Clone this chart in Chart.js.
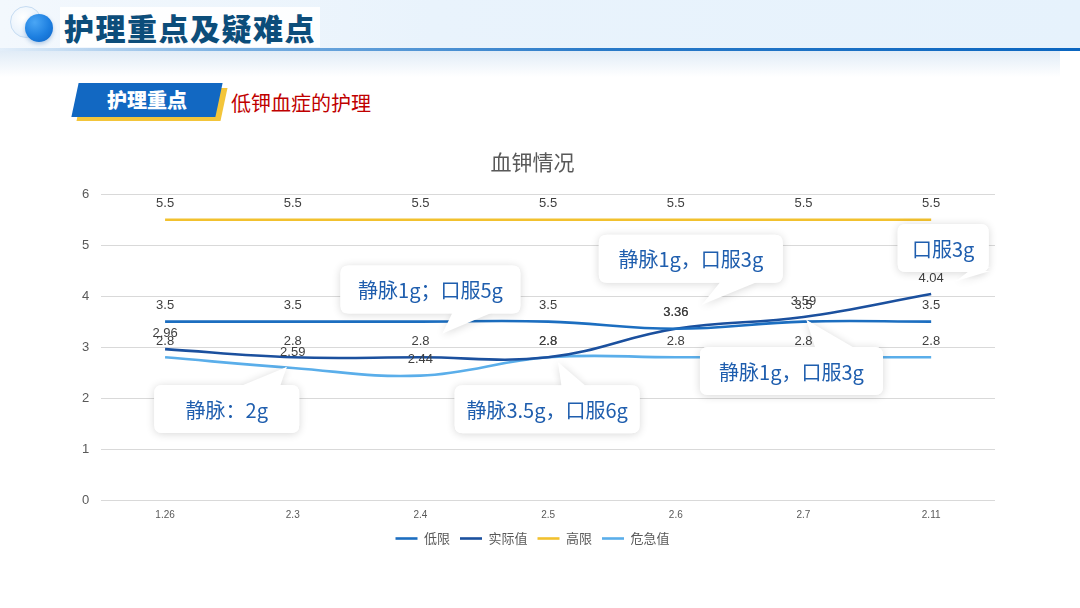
<!DOCTYPE html>
<html>
<head>
<meta charset="utf-8">
<script src="https://cdn.jsdelivr.net/npm/chart.js@4.4.1/dist/chart.umd.min.js"></script>
<style>
  html, body { margin: 0; padding: 0; }
  body {
    width: 1080px; height: 608px; overflow: hidden; position: relative;
    background: #ffffff;
    font-family: "Noto Sans CJK SC", "Liberation Sans", sans-serif;
  }
  .band {
    position: absolute; left: 0; top: 0; width: 1080px; height: 49px;
    background: linear-gradient(90deg, #f3f8fd 0%, #e9f3fc 40%, #e6f2fc 100%);
  }
  .band-line {
    position: absolute; left: 0; top: 48px; width: 1080px; height: 3px;
    background: linear-gradient(90deg, #e3eef9 0%, #7fb3e3 20%, #2a7ac8 55%, #0b66c0 100%);
  }
  .band-shadow {
    position: absolute; left: 0; top: 51px; width: 1060px; height: 26px;
    background: linear-gradient(180deg, rgba(200,220,240,0.55), rgba(255,255,255,0));
  }
  .ring {
    position: absolute; left: 10px; top: 6px; width: 30px; height: 30px; border-radius: 50%;
    background: radial-gradient(circle at 40% 35%, #ffffff 0%, #eaf3fc 60%, #cfe2f6 100%);
    border: 1px solid #c6dcf2;
  }
  .dot {
    position: absolute; left: 25px; top: 14px; width: 28px; height: 28px; border-radius: 50%;
    background: radial-gradient(circle at 35% 30%, #4aa6f5 0%, #1d7fe0 55%, #0d62c4 100%);
    box-shadow: 0 2px 4px rgba(20,90,170,0.3);
  }
  .main-title {
    position: absolute; left: 60px; top: 7px; height: 40px; padding: 0 4px;
    background: rgba(255,255,255,0.9);
    font-size: 30px; font-weight: 900; line-height: 40px; color: #0c4d7a; letter-spacing: 1.5px;
  }
  .tag-shadow {
    position: absolute; left: 80px; top: 88px; width: 144px; height: 33px;
    background: #f3c53a; transform: skewX(-12deg);
  }
  .tag {
    position: absolute; left: 75px; top: 83px; width: 144px; height: 34px;
    background: #1268c2; transform: skewX(-12deg);
  }
  .tag-text {
    position: absolute; left: 75px; top: 83px; width: 144px; height: 34px;
    text-align: center; line-height: 34px; color: #ffffff; font-size: 20px; font-weight: 900;
  }
  .subtitle {
    position: absolute; left: 231px; top: 89px; font-size: 20px; color: #c00000; line-height: 28px;
  }
  .chart-box { position: absolute; left: 40px; top: 135px; width: 1000px; height: 430px; }
</style>
</head>
<body>
<div class="band"></div>
<div class="band-line"></div>
<div class="band-shadow"></div>
<div class="ring"></div>
<div class="dot"></div>
<div class="main-title">护理重点及疑难点</div>
<div class="tag-shadow"></div>
<div class="tag"></div>
<div class="tag-text">护理重点</div>
<div class="subtitle">低钾血症的护理</div>
<div class="chart-box"><canvas id="chart"></canvas></div>

<script>
// categories (dates as labelled on the axis)
const dates = ['1.26', '2.3', '2.4', '2.5', '2.6', '2.7', '2.11']

// series values
const lowLimit = [3.5, 3.5, 3.5, 3.5, 3.36, 3.5, 3.5]
const actual = [2.96, 2.8, 2.8, 2.8, 3.36, 3.59, 4.04]
const highLimit = [5.5, 5.5, 5.5, 5.5, 5.5, 5.5, 5.5]
const critical = [2.8, 2.59, 2.44, 2.8, 2.8, 2.8, 2.8]

// y axis ticks
const yTicks = [0, 1, 2, 3, 4, 5, 6]

// dosing notes shown in callouts: [series index, point index, text]
const notes = [
    [3, 1, '静脉：2g'],
    [0, 2, '静脉1g；口服5g'],
    [1, 3, '静脉3.5g，口服6g'],
    [0, 4, '静脉1g，口服3g'],
    [1, 5, '静脉1g，口服3g'],
    [1, 6, '口服3g']
]

// callout placement relative to its point (style only)
const noteLayout = [
    { dx: -66, dy: 41, w: 145, tipDx: -6, tipDy: -1, base: [-46, -8] },
    { dx: 10, dy: -32, w: 180, tipDx: 22, tipDy: 12, base: [12, 50] },
    { dx: -1, dy: 52, w: 185, tipDx: 10, tipDy: 5, base: [4, 28] },
    { dx: 15, dy: -70, w: 184, tipDx: 26, tipDy: -24, base: [22, 56] },
    { dx: -12, dy: 54, w: 183, tipDx: 3, tipDy: 3, base: [10, 48] },
    { dx: 12, dy: -46, w: 91, tipDx: 25, tipDy: -13, base: [18, 34] }
]

const numFont = '13px "Liberation Sans", "Noto Sans CJK SC", sans-serif'

// value labels above each point
const valueLabels = {
    id: 'valueLabels',
    afterDatasetsDraw(chart) {
        const ctx = chart.ctx
        ctx.save()
        ctx.font = numFont
        ctx.fillStyle = '#404040'
        ctx.textAlign = 'center'
        ctx.textBaseline = 'middle'
        chart.data.datasets.forEach((ds, i) => {
            chart.getDatasetMeta(i).data.forEach((pt, j) => {
                ctx.fillText(String(ds.data[j]), pt.x, pt.y - 16)
            })
        })
        ctx.restore()
    }
}

function roundRect(ctx, x, y, w, h, r) {
    ctx.beginPath()
    ctx.moveTo(x + r, y)
    ctx.lineTo(x + w - r, y)
    ctx.quadraticCurveTo(x + w, y, x + w, y + r)
    ctx.lineTo(x + w, y + h - r)
    ctx.quadraticCurveTo(x + w, y + h, x + w - r, y + h)
    ctx.lineTo(x + r, y + h)
    ctx.quadraticCurveTo(x, y + h, x, y + h - r)
    ctx.lineTo(x, y + r)
    ctx.quadraticCurveTo(x, y, x + r, y)
    ctx.closePath()
}

// callout boxes with a pointer wedge
const callouts = {
    id: 'callouts',
    afterDraw(chart) {
        const ctx = chart.ctx
        ctx.save()
        ctx.font = '20px "Noto Sans CJK SC", "Liberation Sans", sans-serif'
        notes.forEach(([si, pi, text], k) => {
            const lay = noteLayout[k]
            const pt = chart.getDatasetMeta(si).data[pi]
            const w = lay.w
            const h = 48
            const cx = pt.x + lay.dx
            const cy = pt.y + lay.dy
            const x = cx - w / 2
            const y = cy - h / 2
            const tipX = pt.x + lay.tipDx
            const tipY = pt.y + lay.tipDy
            const up = tipY < y
            const edgeY = up ? y + 1 : y + h - 1

            const wedge = (inset) => {
                ctx.beginPath()
                ctx.moveTo(tipX, tipY)
                ctx.lineTo(tipX + lay.base[0], edgeY + (up ? inset : -inset))
                ctx.lineTo(tipX + lay.base[1], edgeY + (up ? inset : -inset))
                ctx.closePath()
                ctx.fill()
            }

            ctx.shadowColor = 'rgba(0,0,0,0.16)'
            ctx.shadowBlur = 8
            ctx.shadowOffsetY = 1
            ctx.fillStyle = '#ffffff'
            roundRect(ctx, x, y, w, h, 8)
            ctx.fill()
            wedge(0)
            ctx.shadowColor = 'transparent'
            roundRect(ctx, x, y, w, h, 8)
            ctx.fill()
            wedge(4)

            ctx.fillStyle = '#1f5eae'
            ctx.textAlign = 'center'
            ctx.textBaseline = 'middle'
            ctx.fillText(text, cx, cy + 1)
        })
        ctx.restore()
    }
}

const line = (label, data, color) => ({
    label: label,
    data: data,
    borderColor: color,
    backgroundColor: color,
    borderWidth: 2.6,
    pointRadius: 0,
    tension: 0.4,
    fill: false
})

new Chart(document.getElementById('chart'), {
    type: 'line',
    data: {
        labels: dates,
        datasets: [
            line('低限', lowLimit, '#1c6ec0'),
            line('实际值', actual, '#1b509e'),
            line('高限', highLimit, '#f2c12e'),
            line('危急值', critical, '#5aaeea')
        ]
    },
    options: {
        responsive: true,
        maintainAspectRatio: false,
        animation: false,
        layout: { padding: { left: 30, right: 45, top: 0, bottom: 10 } },
        plugins: {
            title: {
                display: true,
                text: '血钾情况',
                color: '#595959',
                font: { size: 21, family: '"Noto Sans CJK SC", sans-serif', weight: 'normal' },
                padding: { top: 14, bottom: 20 }
            },
            legend: {
                position: 'bottom',
                labels: {
                    usePointStyle: true,
                    pointStyle: 'line',
                    pointStyleWidth: 22,
                    color: '#595959',
                    font: { size: 13, family: '"Noto Sans CJK SC", sans-serif' },
                    padding: 10
                }
            },
            tooltip: { enabled: false }
        },
        scales: {
            x: {
                offset: true,
                grid: { display: false },
                border: { display: false },
                ticks: { color: '#595959', font: { size: 10, family: '"Liberation Sans", sans-serif' }, padding: 1 }
            },
            y: {
                min: yTicks[0],
                max: yTicks[yTicks.length - 1],
                afterBuildTicks: (axis) => { axis.ticks = yTicks.map(v => ({ value: v })) },
                grid: { color: '#d9d9d9', drawTicks: false },
                border: { display: false },
                ticks: { color: '#595959', font: { size: 13, family: '"Liberation Sans", sans-serif' }, padding: 12 }
            }
        }
    },
    plugins: [valueLabels, callouts]
})
</script>
</body>
</html>
